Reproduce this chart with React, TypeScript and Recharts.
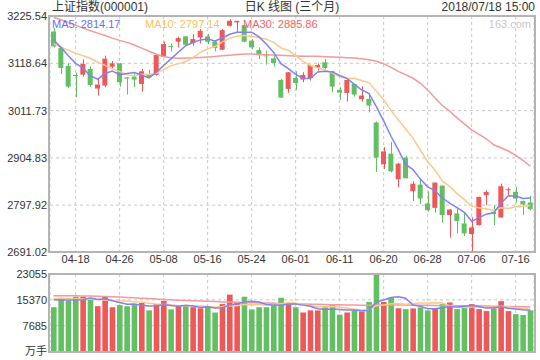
import { ComposedChart, Bar, Line, XAxis, YAxis, CartesianGrid, Cell } from 'recharts';

const dates = [
  '04-13', '04-16', '04-17', '04-18', '04-19', '04-20', '04-23', '04-24', '04-25', '04-26', '04-27',
  '05-02', '05-03', '05-04', '05-07', '05-08', '05-09', '05-10', '05-11', '05-14', '05-15', '05-16',
  '05-17', '05-18', '05-21', '05-22', '05-23', '05-24', '05-25', '05-28', '05-29', '05-30', '05-31',
  '06-01', '06-04', '06-05', '06-06', '06-07', '06-08', '06-11', '06-12', '06-13', '06-14', '06-15',
  '06-19', '06-20', '06-21', '06-22', '06-25', '06-26', '06-27', '06-28', '06-29', '07-02', '07-03',
  '07-04', '07-05', '07-06', '07-09', '07-10', '07-11', '07-12', '07-13', '07-16', '07-17', '07-18',
];

const open = [
  3190.6, 3153.1, 3112.6, 3092.3, 3093.0, 3105.8, 3061.5, 3068.3, 3111.0, 3118.5, 3087.0,
  3088.5, 3072.0, 3094.5, 3092.3, 3133.6, 3157.5, 3167.4, 3179.4, 3164.4, 3177.1, 3179.4,
  3168.1, 3149.4, 3203.4, 3211.0, 3204.9, 3169.6, 3148.6, 3136.5, 3129.8, 3081.0, 3060.8,
  3085.5, 3081.8, 3085.5, 3109.6, 3120.8, 3100.5, 3058.5, 3051.7, 3072.0, 3037.5, 3038.2,
  2984.9, 2890.3, 2914.3, 2856.5, 2905.3, 2829.5, 2844.5, 2801.7, 2792.0, 2842.3, 2775.5,
  2779.2, 2756.7, 2732.6, 2752.9, 2820.5, 2782.9, 2770.2, 2832.5, 2828.0, 2807.7, 2804.0,
];
const high = [
  3198.2, 3154.6, 3118.6, 3097.5, 3127.6, 3111.8, 3083.3, 3135.8, 3123.8, 3119.5, 3088.0,
  3096.0, 3105.8, 3103.5, 3138.0, 3168.1, 3163.6, 3178.6, 3180.2, 3184.6, 3195.9, 3184.6,
  3171.1, 3195.9, 3218.4, 3215.0, 3205.5, 3173.4, 3154.6, 3147.1, 3143.3, 3083.0, 3099.0,
  3100.5, 3098.3, 3115.5, 3118.5, 3128.3, 3102.0, 3064.5, 3081.5, 3072.5, 3066.8, 3051.0,
  2987.2, 2929.4, 2940.6, 2893.3, 2909.1, 2852.0, 2859.5, 2829.5, 2849.5, 2842.5, 2788.5,
  2794.2, 2780.7, 2770.2, 2817.0, 2831.8, 2798.0, 2846.8, 2837.8, 2839.3, 2808.0, 2819.0,
];
const low = [
  3154.6, 3094.5, 3063.0, 3042.0, 3088.5, 3066.0, 3045.7, 3064.5, 3107.3, 3066.0, 3048.0,
  3064.5, 3054.7, 3086.5, 3090.8, 3132.0, 3145.6, 3154.6, 3158.4, 3158.4, 3163.6, 3162.1,
  3145.6, 3148.6, 3201.9, 3188.4, 3165.9, 3150.9, 3128.3, 3115.6, 3111.0, 3040.0, 3051.8,
  3058.5, 3075.8, 3079.5, 3102.0, 3105.8, 3053.3, 3036.0, 3032.2, 3043.5, 3032.2, 3007.5,
  2873.0, 2880.0, 2872.3, 2838.5, 2858.0, 2807.7, 2800.2, 2783.7, 2781.5, 2758.2, 2724.4,
  2734.2, 2728.2, 2691.02, 2752.0, 2798.0, 2752.9, 2770.0, 2818.2, 2804.0, 2775.5, 2786.7,
];
const close = [
  3156.9, 3108.1, 3066.0, 3091.0, 3117.1, 3069.8, 3070.5, 3129.1, 3118.5, 3075.8, 3084.0,
  3081.8, 3100.5, 3087.0, 3137.3, 3162.1, 3156.0, 3175.6, 3160.6, 3173.4, 3192.1, 3167.4,
  3153.1, 3193.6, 3214.7, 3214.5, 3167.4, 3154.6, 3139.6, 3135.0, 3119.3, 3041.2, 3098.3,
  3074.3, 3092.3, 3114.8, 3114.8, 3108.1, 3066.0, 3052.5, 3081.0, 3048.0, 3045.7, 3023.2,
  2905.3, 2919.6, 2874.6, 2891.8, 2858.8, 2846.5, 2813.0, 2786.7, 2849.0, 2775.5, 2788.2,
  2761.9, 2734.2, 2747.7, 2816.7, 2828.0, 2777.7, 2840.8, 2834.0, 2813.0, 2799.5, 2789.0,
];

const ma5 = [
  3171.1, 3154.6, 3135.8, 3118.5, 3107.8, 3090.4, 3082.9, 3095.5, 3101.0, 3092.7, 3095.6,
  3097.8, 3092.1, 3085.8, 3098.1, 3113.7, 3128.6, 3143.6, 3158.3, 3165.5, 3171.5, 3173.8,
  3169.3, 3175.9, 3184.2, 3188.7, 3188.7, 3189.0, 3178.2, 3162.2, 3143.2, 3117.9, 3106.7,
  3093.6, 3085.1, 3084.2, 3098.9, 3100.9, 3099.2, 3091.2, 3084.5, 3071.1, 3058.6, 3050.1,
  3020.6, 2988.4, 2953.7, 2922.9, 2890.0, 2878.3, 2856.9, 2839.4, 2830.8, 2814.1, 2802.5,
  2792.3, 2781.8, 2761.5, 2769.7, 2777.7, 2780.9, 2802.2, 2819.4, 2818.7, 2813.0, 2814.17,
];
const ma10 = [
  3163.0, 3155.0, 3148.0, 3141.0, 3136.0, 3130.0, 3121.0, 3114.0, 3106.0, 3100.3, 3093.0,
  3090.4, 3093.8, 3093.4, 3095.4, 3104.7, 3113.2, 3117.9, 3122.1, 3131.8, 3142.6, 3151.2,
  3156.5, 3167.1, 3174.9, 3180.1, 3181.2, 3179.1, 3177.0, 3173.2, 3165.9, 3153.3, 3147.8,
  3135.9, 3123.7, 3113.7, 3108.4, 3103.8, 3096.4, 3088.2, 3084.3, 3085.0, 3079.8, 3074.6,
  3055.9, 3036.4, 3012.4, 2990.8, 2970.1, 2949.5, 2922.7, 2896.5, 2876.9, 2852.1, 2840.4,
  2824.6, 2810.6, 2796.2, 2791.9, 2790.1, 2786.6, 2792.0, 2790.5, 2794.2, 2795.4, 2797.14,
];
const ma30 = [
  3222.2, 3216.9, 3210.9, 3204.9, 3198.2, 3192.1, 3186.9, 3181.6, 3175.6, 3170.4, 3166.0,
  3160.0, 3153.0, 3146.0, 3139.0, 3134.0, 3131.0, 3130.0, 3130.5, 3131.0, 3132.0, 3133.0,
  3134.0, 3135.5, 3137.0, 3138.5, 3139.5, 3139.6, 3138.8, 3138.1, 3137.3, 3136.6, 3135.8,
  3135.1, 3134.3, 3134.3, 3134.3, 3133.6, 3132.8, 3132.1, 3131.3, 3130.6, 3129.1, 3126.8,
  3123.1, 3117.8, 3109.6, 3100.5, 3093.0, 3084.8, 3073.5, 3058.5, 3040.0, 3023.2, 3010.4,
  2995.4, 2981.9, 2968.4, 2957.9, 2948.1, 2934.6, 2927.9, 2920.4, 2910.6, 2899.3, 2885.86,
];

// 成交量 (万手)
const vol = [
  13170, 15990, 15150, 16300, 16300, 15990, 13480, 16510, 13170, 13800, 13480,
  13800, 14420, 12230, 14110, 15050, 12540, 13480, 13480, 13170, 12860, 13480,
  11600, 14110, 16930, 14740, 16300, 12540, 13170, 13170, 13800, 15990, 14420,
  13170, 11600, 12230, 12230, 13170, 13800, 10970, 11600, 12230, 11910, 14740,
  23055, 14740, 15990, 12860, 12610, 12810, 13110, 12220, 12810, 14090, 14580,
  12610, 13200, 14090, 12610, 12020, 12810, 14980, 12020, 11130, 10840, 12220,
];
const volMa5 = [
  15400, 15350, 15300, 15350, 15382, 15946, 15444, 15716, 15090, 14590, 14088,
  14152, 13734, 13546, 13608, 13922, 13670, 13482, 13732, 13544, 13106, 13294,
  12918, 13044, 13796, 14172, 14736, 14924, 14736, 13984, 13796, 13734, 14110,
  14110, 13796, 13482, 12730, 12480, 12606, 12480, 12354, 12354, 12102, 12290,
  14707, 15335, 16087, 16277, 15851, 13802, 13476, 12722, 12712, 13008, 13362,
  13262, 13458, 13714, 13418, 12906, 12946, 13302, 12890, 12626, 12398, 12280,
];
const volMa10 = [
  15800, 15750, 15700, 15650, 15600, 15550, 15450, 15300, 15150, 14986, 15017,
  14798, 14725, 14318, 14099, 14005, 13911, 13608, 13639, 13576, 13514, 13482,
  13200, 13388, 13670, 13639, 14015, 13921, 13890, 13890, 13984, 14235, 14517,
  14423, 13890, 13639, 13232, 13295, 13358, 13138, 12918, 12542, 12291, 12448,
  13594, 13845, 14221, 14190, 14071, 14255, 14406, 14405, 14495, 14430, 13582,
  13369, 13090, 13213, 13213, 13134, 13104, 13380, 13302, 13022, 12652, 12613,
];
const volMa30 = [
  16600, 16600, 16580, 16560, 16530, 16500, 16450, 16380, 16300, 16200, 16100,
  15980, 15860, 15740, 15620, 15500, 15380, 15270, 15170, 15080, 15000, 14920,
  14840, 14760, 14700, 14640, 14580, 14520, 14460, 14400, 14340, 14280, 14230,
  14180, 14130, 14080, 14030, 13980, 13940, 13900, 13860, 13820, 13790, 13760,
  13800, 13820, 13850, 13840, 13820, 13790, 13760, 13730, 13700, 13680, 13660,
  13630, 13600, 13570, 13540, 13500, 13460, 13430, 13390, 13350, 13300, 13250,
];

const tickDates = ['04-18', '04-26', '05-08', '05-16', '05-24', '06-01', '06-11', '06-20', '06-28', '07-06', '07-16'];
const priceTicks = [2691.02, 2797.92, 2904.83, 3011.73, 3118.64, 3225.54];
const volTicks = [0, 7685, 15370, 23055];

const RED = '#ee5858';
const GREEN = '#62bf62';
const C_MA5 = '#8282f2';
const C_MA10 = '#fcc98a';
const C_MA30 = '#f49a9a';
const FONT = '"Liberation Sans", Arial, "Noto Sans CJK SC", sans-serif';

const rows = dates.map((d, i) => ({
  date: d,
  open: open[i],
  high: high[i],
  low: low[i],
  close: close[i],
  ma5: ma5[i],
  ma10: ma10[i],
  ma30: ma30[i],
  vol: vol[i],
  vma5: volMa5[i],
  vma10: volMa10[i],
  vma30: volMa30[i],
}));

const Candle = (props: any) => {
  const { x, y, width, height, payload } = props;
  if (!payload) return null;
  const top = Math.min(y, y + height);
  const h = Math.abs(height);
  const span = payload.high - payload.low;
  const k = span > 0 ? h / span : 0;
  const yOpen = top + (payload.high - payload.open) * k;
  const yClose = top + (payload.high - payload.close) * k;
  const color = payload.close > payload.open ? RED : GREEN;
  const bodyTop = Math.min(yOpen, yClose);
  const bodyH = Math.max(1, Math.abs(yClose - yOpen));
  const cx = Math.round(x + width / 2) + 0.5;
  return (
    <g>
      <line x1={cx} x2={cx} y1={top} y2={top + h} stroke={color} strokeWidth={1} />
      <rect x={x} y={bodyTop} width={width} height={bodyH} fill={color} />
    </g>
  );
};

const axisTick = { fontSize: 11, fill: '#333', fontFamily: FONT };

export default function App() {
  return (
    <div style={{ position: 'absolute', left: 0, top: 0, width: 540, height: 360, background: '#fff', fontFamily: FONT }}>
      <div style={{ position: 'absolute', left: 0, top: 0 }}>
        <ComposedChart width={540} height={270} data={rows} margin={{ top: 16, right: 6, left: 0, bottom: 0 }}>
          <CartesianGrid stroke="#c8c8c8" strokeDasharray="3 3" />
          <XAxis
            dataKey="date"
            ticks={tickDates}
            interval={0}
            axisLine={false}
            tickLine={false}
            tickSize={0}
            tickMargin={3}
            height={17.5}
            tick={axisTick}
          />
          <YAxis
            domain={[2691.02, 3225.54]}
            ticks={priceTicks}
            interval={0}
            width={50}
            axisLine={false}
            tickLine={false}
            tickSize={0}
            tickMargin={3}
            tick={axisTick}
            tickFormatter={(v: number) => v.toFixed(2)}
          />
          <Bar dataKey={(d: any) => [d.low, d.high]} shape={Candle} barSize={5} isAnimationActive={false} />
          <Line dataKey="ma30" stroke={C_MA30} strokeWidth={1.5} dot={false} isAnimationActive={false} />
          <Line dataKey="ma10" stroke={C_MA10} strokeWidth={1.5} dot={false} isAnimationActive={false} />
          <Line dataKey="ma5" stroke={C_MA5} strokeWidth={1.5} dot={false} isAnimationActive={false} />
        </ComposedChart>
      </div>

      <div style={{ position: 'absolute', left: 0, top: 262 }}>
        <ComposedChart width={540} height={98} data={rows} margin={{ top: 12, right: 6, left: 0, bottom: 8.5 }}>
          <CartesianGrid stroke="#c8c8c8" strokeDasharray="3 3" />
          <XAxis dataKey="date" ticks={tickDates} interval={0} hide />
          <YAxis
            domain={[0, 23055]}
            ticks={volTicks}
            interval={0}
            width={50}
            axisLine={false}
            tickLine={false}
            tickSize={0}
            tickMargin={3}
            tick={axisTick}
            tickFormatter={(v: number) => (v === 0 ? '万手' : String(v))}
          />
          <Bar dataKey="vol" barSize={5.6} isAnimationActive={false}>
            {rows.map((r, i) => (
              <Cell key={i} fill={r.close > r.open ? RED : GREEN} />
            ))}
          </Bar>
          <Line dataKey="vma30" stroke={C_MA30} strokeWidth={1.5} dot={false} isAnimationActive={false} />
          <Line dataKey="vma10" stroke={C_MA10} strokeWidth={1.5} dot={false} isAnimationActive={false} />
          <Line dataKey="vma5" stroke={C_MA5} strokeWidth={1.5} dot={false} isAnimationActive={false} />
        </ComposedChart>
      </div>

      <div style={{ position: 'absolute', left: 48, top: 15, width: 488, height: 238, border: '2px solid #b4b4b4', boxSizing: 'border-box', pointerEvents: 'none' }} />
      <div style={{ position: 'absolute', left: 48, top: 273, width: 488, height: 80, border: '2px solid #b4b4b4', boxSizing: 'border-box', pointerEvents: 'none' }} />

      <div style={{ position: 'absolute', left: 52, top: 0, fontSize: 12, lineHeight: '14px', color: '#333' }}>上证指数(000001)</div>
      <div style={{ position: 'absolute', left: 292, top: 0, fontSize: 12, lineHeight: '14px', color: '#333', transform: 'translateX(-50%)', whiteSpace: 'nowrap' }}>日K 线图 (三个月)</div>
      <div style={{ position: 'absolute', right: 5, top: 0, fontSize: 12, lineHeight: '14px', color: '#333' }}>2018/07/18 15:00</div>

      <div style={{ position: 'absolute', left: 52, top: 18, fontSize: 11, lineHeight: '12px', color: '#6c6cf4' }}>MA5: 2814.17</div>
      <div style={{ position: 'absolute', left: 145, top: 18, fontSize: 11, lineHeight: '12px', color: '#ffbf60' }}>MA10: 2797.14</div>
      <div style={{ position: 'absolute', left: 243, top: 18, fontSize: 11, lineHeight: '12px', color: '#f06464' }}>MA30: 2885.86</div>
      <div style={{ position: 'absolute', right: 9, top: 18, fontSize: 11, lineHeight: '12px', color: '#c8c8c8' }}>163.com</div>
    </div>
  );
}
